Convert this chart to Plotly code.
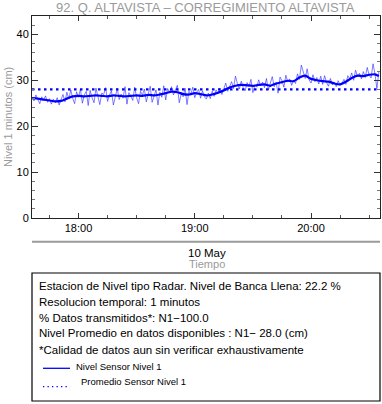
import pandas as pd
import plotly.graph_objects as go

# ---------------- data ----------------
start_time = "2024-05-10 17:36"
raw_level = [
    26.3, 25.5, 26.8, 25.9, 24.9, 26.4, 25.7, 26.6, 25.2, 26.0,
    24.8, 25.9, 25.1, 26.2, 24.6, 25.8, 26.9, 25.3, 27.4, 25.9,
    27.9, 26.1, 24.9, 27.5, 26.3, 28.1, 25.0, 26.8, 27.6, 24.5,
    27.8, 26.2, 25.1, 28.3, 26.5, 24.7, 27.2, 26.9, 28.4, 25.4,
    26.8, 27.7, 24.6, 26.4, 28.2, 25.8, 27.0, 26.1, 28.6, 24.8,
    27.3, 26.5, 25.6, 28.5, 26.2, 24.9, 27.6, 26.8, 28.1, 25.3,
    27.1, 28.7, 25.2, 26.6, 27.9, 24.6, 27.4, 26.3, 28.8, 25.7,
    28.2, 27.3, 28.6, 26.8, 27.9, 28.9, 25.1, 27.0, 26.4, 28.3,
    24.7, 27.6, 27.0, 28.5, 26.2, 27.4, 28.0, 26.1, 27.7, 26.4,
    25.9, 27.2, 26.0, 27.6, 26.5, 27.9, 27.1, 28.3, 26.9, 28.0,
    29.4, 27.6, 28.9, 29.7, 28.2, 30.9, 29.3, 28.1, 29.8, 28.4,
    27.7, 29.5, 28.6, 30.2, 27.3, 29.0, 28.5, 30.1, 28.8, 29.6,
    28.4, 30.4, 27.9, 29.2, 30.8, 28.6, 29.5, 27.2, 30.7, 29.9,
    28.5, 31.1, 29.6, 30.3, 28.9, 30.0, 29.3, 31.4, 30.2, 33.3,
    31.8, 30.4, 32.5, 30.1, 29.4, 31.2, 29.7, 30.6, 29.2, 30.9,
    29.1, 31.0, 29.5, 28.7, 30.4, 29.0, 29.6, 28.6, 29.9, 28.9,
    29.4, 30.2, 29.1, 31.0, 30.3, 31.6, 30.0, 32.2, 30.8, 31.5,
    30.3, 31.9, 30.6, 32.8, 31.1, 30.5, 33.6, 31.4, 28.2, 31.8,
]
smooth_minutes = [0, 3, 6, 9, 12, 15, 18, 21, 24, 27, 30, 33, 36, 39, 42, 45, 48, 51,
                  54, 57, 60, 63, 66, 69, 72, 75, 78, 81, 84, 87, 90, 93, 96, 99, 102,
                  105, 108, 111, 114, 117, 120, 123, 126, 129, 132, 135, 138, 141, 144,
                  147, 150, 153, 156, 159, 162, 165, 168, 171, 174, 177, 179]
smooth_level = [26.1, 26.0, 25.8, 25.6, 25.4, 25.5, 26.0, 26.5, 26.6, 26.5, 26.6, 26.7,
                26.6, 26.5, 26.7, 26.6, 26.5, 26.6, 26.7, 26.6, 26.8, 26.7, 26.9, 27.2,
                27.5, 27.4, 27.0, 26.9, 27.2, 27.0, 26.7, 26.9, 27.3, 27.8, 28.4, 28.8,
                29.0, 28.9, 28.8, 29.0, 29.1, 28.8, 29.3, 29.6, 29.9, 29.8, 30.6, 31.0,
                30.3, 30.0, 29.8, 29.7, 29.3, 29.1, 29.7, 30.5, 31.0, 30.9, 31.2, 31.3,
                30.9]
mean_level = 28.0

title_text = "92. Q. ALTAVISTA – CORREGIMIENTO ALTAVISTA"
info_lines = [
    "Estacion de Nivel tipo Radar. Nivel de Banca Llena: 22.2 %",
    "Resolucion temporal: 1 minutos",
    "% Datos transmitidos*: N1−100.0",
    "Nivel Promedio en datos disponibles : N1− 28.0 (cm)",
    "*Calidad de datos aun sin verificar exhaustivamente",
]
legend_labels = ["Nivel Sensor Nivel 1", "Promedio Sensor Nivel 1"]

# ---------------- build ----------------
t0 = pd.Timestamp(start_time)
raw_times = [t0 + pd.Timedelta(minutes=i) for i in range(len(raw_level))]
smooth_times = [t0 + pd.Timedelta(minutes=m) for m in smooth_minutes]

FONT = "Liberation Sans, Arial, Helvetica, sans-serif"
GRAY = "#9a9a9a"
BLUE = "#0000ff"

fig = go.Figure()
fig.add_trace(go.Scatter(x=raw_times, y=raw_level, mode="lines",
                         line=dict(color="rgba(40,40,255,0.6)", width=1), showlegend=False))
fig.add_trace(go.Scatter(x=smooth_times, y=smooth_level, mode="lines",
                         line=dict(color=BLUE, width=2.2, shape="spline", smoothing=0.6),
                         showlegend=False))
fig.add_trace(go.Scatter(x=[raw_times[0], raw_times[-1] + pd.Timedelta(seconds=36)],
                         y=[mean_level, mean_level], mode="lines",
                         line=dict(color=BLUE, width=2.2, dash="2.5px,3.5px"), showlegend=False))

W, H = 382, 404
L, R, T, B = 32, 380, 16, 218
pw, ph = R - L, B - T


def px(x):
    return (x - L) / pw


def py(y):
    return (B - y) / ph


fig.update_layout(
    width=W, height=H,
    margin=dict(l=L, r=W - R, t=T, b=H - B),
    paper_bgcolor="white", plot_bgcolor="white",
    font=dict(family=FONT, size=11, color="black"),
    showlegend=False,
)
fig.update_xaxes(
    type="date",
    range=[t0, t0 + pd.Timedelta(minutes=179, seconds=36)],
    tick0="2024-05-10 00:00", dtick=3600000, tickformat="%H:%M",
    ticks="inside", ticklen=5, tickcolor="#333", tickwidth=1,
    minor=dict(dtick=900000, ticks="inside", ticklen=3, tickcolor="#555"),
    showline=True, linecolor="#222", linewidth=1, mirror="ticks",
    showgrid=False, zeroline=False,
    tickfont=dict(size=11, family=FONT),
)
fig.update_yaxes(
    range=[0, 44], dtick=10, tick0=0,
    ticks="inside", ticklen=6, tickcolor="#333", tickwidth=1,
    minor=dict(dtick=2, ticks="inside", ticklen=3, tickcolor="#777"),
    showline=True, linecolor="#222", linewidth=1, mirror="ticks",
    showgrid=False, zeroline=False,
    tickfont=dict(size=11, family=FONT),
)

ann = []
ann.append(dict(text=title_text, x=px(205), y=py(7.5), xref="paper", yref="paper",
                xanchor="center", yanchor="middle", showarrow=False,
                font=dict(size=13, color=GRAY, family=FONT)))
ann.append(dict(text="Nivel 1 minutos (cm)", x=px(8), y=0.5, xref="paper", yref="paper",
                xanchor="center", yanchor="middle", textangle=-90, showarrow=False,
                font=dict(size=11, color=GRAY, family=FONT)))
ann.append(dict(text="10 May", x=px(207), y=py(252.5), xref="paper", yref="paper",
                xanchor="center", yanchor="middle", showarrow=False,
                font=dict(size=11.5, color="black", family=FONT)))
ann.append(dict(text="Tiempo", x=px(207), y=py(263.5), xref="paper", yref="paper",
                xanchor="center", yanchor="middle", showarrow=False,
                font=dict(size=11, color=GRAY, family=FONT)))
line_y = [285.7, 301.7, 317.7, 333.5, 349.8]
for txt, yy in zip(info_lines, line_y):
    ann.append(dict(text=txt, x=px(36.5), y=py(yy), xref="paper", yref="paper",
                    xanchor="left", yanchor="middle", showarrow=False,
                    font=dict(size=11.5, color="black", family=FONT)))
ann.append(dict(text=legend_labels[0], x=px(74), y=py(366), xref="paper", yref="paper",
                xanchor="left", yanchor="middle", showarrow=False,
                font=dict(size=9.5, color="black", family=FONT)))
ann.append(dict(text=legend_labels[1], x=px(78.5), y=py(381.7), xref="paper", yref="paper",
                xanchor="left", yanchor="middle", showarrow=False,
                font=dict(size=9.5, color="black", family=FONT)))

shapes = [
    dict(type="line", xref="paper", yref="paper", x0=0, x1=1, y0=py(241.7), y1=py(241.7),
         line=dict(color=GRAY, width=2)),
    dict(type="rect", xref="paper", yref="paper", x0=0, x1=1, y0=py(273), y1=py(401),
         line=dict(color="black", width=1.2), fillcolor="rgba(0,0,0,0)"),
    dict(type="line", xref="paper", yref="paper", x0=px(43), x1=px(70), y0=py(368.3), y1=py(368.3),
         line=dict(color=BLUE, width=1.3)),
    dict(type="line", xref="paper", yref="paper", x0=px(43), x1=px(67), y0=py(386.7), y1=py(386.7),
         line=dict(color=BLUE, width=1.3, dash="1.3px,3.2px")),
]
fig.update_layout(annotations=ann, shapes=shapes)

fig.write_html(
    "out.html",
    config={"displayModeBar": False},
    post_script="document.body.style.margin='0';document.body.style.padding='0';"
                "document.body.style.overflow='hidden';",
)
